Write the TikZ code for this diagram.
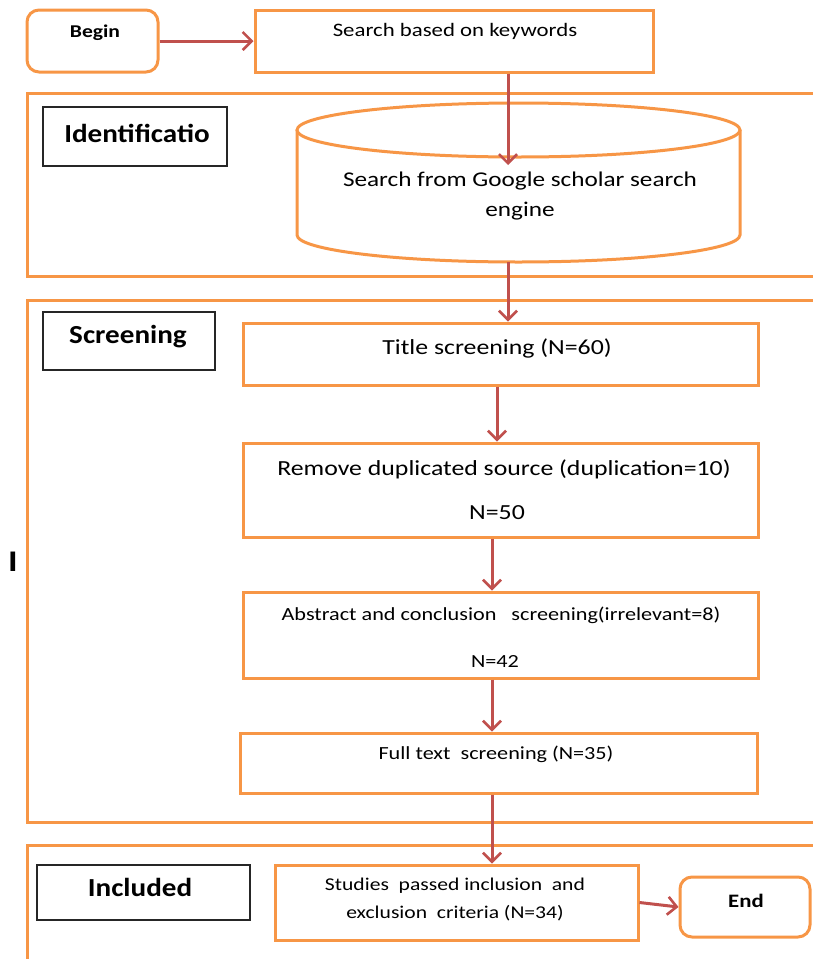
\documentclass[tikz,border=0pt]{standalone}
\usepackage{fontspec}
\setmainfont{Carlito}
\newfontfamily\nfont[FakeStretch=1.2]{Carlito}
\newfontfamily\lfont[FakeStretch=1.12]{Carlito}
\usetikzlibrary{arrows.meta}
\definecolor{orng}{RGB}{247,150,70}
\definecolor{arr}{RGB}{192,80,77}
\tikzset{
  box/.style={draw=orng,line width=3pt,fill=white,inner sep=0pt},
  sect/.style={draw=orng,line width=3pt},
  lblbox/.style={draw=black!85,line width=1.8pt,inner sep=0pt},
  ar/.style={draw=arr,line width=3pt,-{Straight Barb[length=9pt,width=18pt,line width=2.6pt]}},
  tx/.style={inner sep=0pt,font=\nfont\fontsize{#1}{#1}\selectfont},
  tb/.style={inner sep=0pt,font=\nfont\fontsize{#1}{#1}\selectfont\bfseries},
  tl/.style={inner sep=0pt,font=\lfont\fontsize{#1}{#1}\selectfont\bfseries},
}
\begin{document}
\begin{tikzpicture}[x=1pt,y=-1pt]
\useasboundingbox (0,0) rectangle (813,959);
\clip (0,0) rectangle (813,959);
% sections
\draw[sect] (27,93) rectangle (840,276);
\draw[sect] (27,300) rectangle (840,822);
\draw[sect] (27,845) rectangle (840,990);
% top row
\node[box,rounded corners=12pt,minimum width=131pt,minimum height=62pt] (begin) at (92.5,41) {};
\node[tb=18] (begintx) at (95,33) {Begin};
\node[box,minimum width=398pt,minimum height=62pt] (search) at (454,41) {};
\node[tx=19] (searchtx) at (455,31) {Search based on keywords};
% identification
\node[lblbox,minimum width=184pt,minimum height=59pt] (idlbl) at (135,136.5) {};
\node[tl=26] (idtx) at (137,133) {Identificatio};
\draw[orng,line width=3pt,fill=white] (297,130) -- (297,235) arc[start angle=180,end angle=360,x radius=221.5pt,y radius=27pt] -- (740,130);
\draw[orng,line width=3pt,fill=white] (518.5,130) ellipse[x radius=221.5pt,y radius=27pt];
\coordinate (cyltop) at (508,165);
\coordinate (cylbot) at (508,262);
\node[tx=21] (cyltx1) at (520,181) {Search from Google scholar search};
\node[tx=21] (cyltx2) at (520,211) {engine};
% screening
\node[lblbox,minimum width=172pt,minimum height=58pt] (scrlbl) at (129,341) {};
\node[tl=26] (scrtx) at (128,337) {Screening};
\node[box,minimum width=515pt,minimum height=62pt] (title) at (500.5,354) {};
\node[tx=21.5] (titletx) at (497,348) {Title screening (N=60)};
\node[box,minimum width=515pt,minimum height=94pt] (remove) at (500.5,490) {};
\node[tx=21.5] (removetx) at (504,469) {Remove duplicated source (duplication=10)};
\node[tx=21.5] (removen) at (497,513) {N=50};
\node[box,minimum width=515pt,minimum height=86pt] (abstract) at (500.5,635) {};
\node[tx=18.5] (abstracttx) at (501,615) {Abstract and conclusion\ \ \ screening(irrelevant=8)};
\node[tx=18.5] (abstractn) at (495,661) {N=42};
\node[box,minimum width=517pt,minimum height=60pt] (full) at (498.5,763) {};
\node[tx=18.5] (fulltx) at (496,754) {Full text\ \ screening (N=35)};
% included
\node[lblbox,minimum width=213pt,minimum height=55pt] (inclbl) at (143.5,892.5) {};
\node[tl=26] (inctx) at (140,887) {Included};
\node[box,minimum width=363pt,minimum height=75pt] (studies) at (456.5,902.5) {};
\node[tx=18] (studiestx1) at (455,886) {Studies\ \ passed inclusion\ \ and};
\node[tx=18] (studiestx2) at (455,913) {exclusion\ \ criteria (N=34)};
\node[box,rounded corners=12pt,minimum width=130pt,minimum height=60pt] (end) at (745,907) {};
\node[tb=19] (endtx) at (746,901) {End};
% stray mark
\node[tb=30] (stray) at (13,562) {I};
% connectors
\draw[ar] (begin.east) -- (search.west);
\draw[ar] (search.south -| cyltop) -- (cyltop);
\draw[ar] (cylbot) -- (cylbot |- title.north);
\draw[ar] ([xshift=-3.5pt]title.south) -- ([xshift=-3.5pt]remove.north);
\draw[ar] ([xshift=-8.5pt]remove.south) -- ([xshift=-8.5pt]abstract.north);
\draw[ar] ([xshift=-8.5pt]abstract.south) -- ([xshift=-8.5pt]abstract.south |- full.north);
\draw[ar] ([xshift=-6.5pt]full.south) -- ([xshift=-6.5pt]full.south |- studies.north);
\draw[ar] (studies.east) -- (end.west);
\end{tikzpicture}
\end{document}
